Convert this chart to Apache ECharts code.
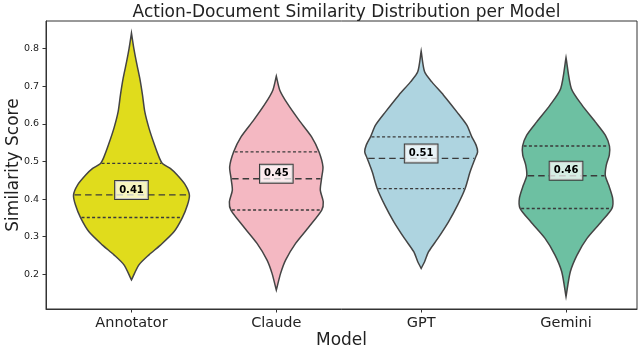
<!DOCTYPE html>
<html>
<head>
<meta charset="utf-8">
<script src="https://cdn.jsdelivr.net/npm/echarts@6/dist/echarts.min.js"></script>
<style>
html,body{margin:0;padding:0;background:#fff;}
#chart{width:640px;height:347px;}
</style>
</head>
<body>
<div id="chart"></div>
<script>
// ---- data ----
const categories = ['Annotator', 'Claude', 'GPT', 'Gemini'];
const medians = [0.411, 0.454, 0.508, 0.462];
const q1s = [0.351, 0.371, 0.428, 0.375];
const q3s = [0.495, 0.5255, 0.565, 0.541];
const yTicks = [0.2, 0.3, 0.4, 0.5, 0.6, 0.7, 0.8];

// kernel density profiles (value, relative density)
const annotatorValues  = [0.8406, 0.8008, 0.7655, 0.7212, 0.6768, 0.6328, 0.5884, 0.5441, 0.5088, 0.4947, 0.4813, 0.4637, 0.4371, 0.4106, 0.384, 0.3508, 0.3131, 0.2778, 0.2518, 0.2252, 0.1853];
const annotatorDensity = [0, 0.04, 0.083, 0.143, 0.19, 0.229, 0.302, 0.397, 0.483, 0.534, 0.67, 0.79, 0.931, 1.0, 0.966, 0.879, 0.733, 0.5, 0.302, 0.129, 0];
const claudeValues  = [0.7265, 0.6893, 0.654, 0.6097, 0.5653, 0.5255, 0.4857, 0.4549, 0.4238, 0.3928, 0.3707, 0.3264, 0.2823, 0.238, 0.2027, 0.1584];
const claudeDensity = [0, 0.06, 0.19, 0.391, 0.609, 0.736, 0.805, 0.781, 0.759, 0.81, 0.784, 0.564, 0.333, 0.16, 0.074, 0];
const gptValues  = [0.7928, 0.7379, 0.7113, 0.676, 0.6317, 0.5964, 0.5653, 0.5433, 0.5255, 0.508, 0.4724, 0.4283, 0.384, 0.3397, 0.2956, 0.2601, 0.2335, 0.216];
const gptDensity = [0, 0.059, 0.184, 0.386, 0.616, 0.788, 0.874, 0.948, 0.974, 0.931, 0.845, 0.759, 0.628, 0.472, 0.288, 0.128, 0.059, 0];
const geminiValues  = [0.7756, 0.6938, 0.6495, 0.6051, 0.5698, 0.5406, 0.5167, 0.4902, 0.4623, 0.4371, 0.4018, 0.3753, 0.3397, 0.2956, 0.2513, 0.207, 0.1411];
const geminiDensity = [0, 0.091, 0.276, 0.505, 0.678, 0.75, 0.747, 0.695, 0.678, 0.736, 0.805, 0.793, 0.609, 0.362, 0.19, 0.074, 0];

const profiles = [
  [annotatorValues, annotatorDensity],
  [claudeValues, claudeDensity],
  [gptValues, gptDensity],
  [geminiValues, geminiDensity]
];
const colors = ['#e0dc1c', '#f4b8c2', '#aed4e0', '#6dc0a2'];
const HALF = 0.4;
const FONT = '"DejaVu Sans", sans-serif';

function densityAt(vals, dens, v) {
  for (let k = 0; k < vals.length - 1; k++) {
    const a = vals[k], b = vals[k + 1];
    if ((v <= a && v >= b)) {
      const t = (a - v) / (a - b);
      return dens[k] + t * (dens[k + 1] - dens[k]);
    }
  }
  return 0;
}

function renderItem(params, api) {
  const i = params.dataIndex;
  const vals = profiles[i][0], dens = profiles[i][1];
  const pts = [];
  for (let k = 0; k < vals.length; k++) pts.push(api.coord([i - dens[k] * HALF, vals[k]]));
  for (let k = vals.length - 1; k >= 0; k--) pts.push(api.coord([i + dens[k] * HALF, vals[k]]));
  const children = [{
    type: 'polygon',
    shape: { points: pts, smooth: 0.25 },
    style: { fill: colors[i], stroke: '#444', lineWidth: 1.5 }
  }];
  const lines = [[q3s[i], [3, 2.3]], [medians[i], [6.5, 4]], [q1s[i], [3, 2.3]]];
  lines.forEach(function (l) {
    const d = densityAt(vals, dens, l[0]) * HALF;
    const p1 = api.coord([i - d, l[0]]);
    const p2 = api.coord([i + d, l[0]]);
    children.push({
      type: 'line',
      shape: { x1: p1[0] + 1, y1: p1[1], x2: p2[0] - 1, y2: p2[1] },
      style: { stroke: '#3a3a3a', lineWidth: 1.3, lineDash: l[1] }
    });
  });
  const c = api.coord([i, medians[i]]);
  children.push({
    type: 'text',
    x: c[0], y: c[1] - 5,
    style: {
      text: medians[i].toFixed(2),
      font: 'bold 10px ' + FONT,
      fill: '#000',
      align: 'center',
      verticalAlign: 'middle',
      backgroundColor: 'rgba(255,255,255,0.72)',
      borderColor: '#3a3a3a',
      borderWidth: 1,
      padding: [3, 4, 3, 4],
      lineHeight: 12
    }
  });
  return { type: 'group', children: children };
}

const chart = echarts.init(document.getElementById('chart'));
chart.setOption({
  animation: false,
  backgroundColor: '#fff',
  title: {
    text: 'Action-Document Similarity Distribution per Model',
    left: 341.5,
    textAlign: 'center',
    top: -1,
    textStyle: { fontFamily: FONT, fontSize: 17, fontWeight: 'normal', color: '#222' }
  },
  grid: {
    left: 46, right: 3, top: 21, bottom: 38,
    outerBoundsMode: 'none',
    containLabel: false,
    show: true, borderColor: '#333', borderWidth: 1, backgroundColor: 'transparent'
  },
  xAxis: {
    type: 'value',
    min: -0.59, max: 3.49,
    name: 'Model',
    nameLocation: 'middle',
    nameGap: 23,
    nameMoveOverlap: false,
    nameTextStyle: { fontFamily: FONT, fontSize: 17, color: '#222' },
    axisLine: { show: true, onZero: false, lineStyle: { color: '#333' } },
    axisTick: { show: true, length: 3.5, customValues: [0, 1, 2, 3], lineStyle: { color: '#333' } },
    axisLabel: {
      customValues: [0, 1, 2, 3],
      formatter: function (v) { return categories[Math.round(v)]; },
      fontFamily: FONT, fontSize: 14.5, color: '#222', margin: 7
    },
    splitLine: { show: false }
  },
  yAxis: {
    type: 'value',
    min: 0.108, max: 0.873,
    name: 'Similarity Score',
    nameLocation: 'middle',
    nameGap: 24,
    nameMoveOverlap: false,
    nameTextStyle: { fontFamily: FONT, fontSize: 17, color: '#222' },
    axisLine: { show: true, onZero: false, lineStyle: { color: '#333' } },
    axisTick: { show: true, length: 3.5, customValues: yTicks, lineStyle: { color: '#333' } },
    axisLabel: {
      customValues: yTicks,
      formatter: function (v) { return v.toFixed(1); },
      fontFamily: FONT, fontSize: 9.5, color: '#222', margin: 7
    },
    splitLine: { show: false }
  },
  series: [{
    type: 'custom',
    renderItem: renderItem,
    data: categories.map(function (c, i) { return [i, medians[i]]; }),
    encode: { x: 0, y: 1 },
    clip: false,
    z: 3
  }]
});
</script>
</body>
</html>
